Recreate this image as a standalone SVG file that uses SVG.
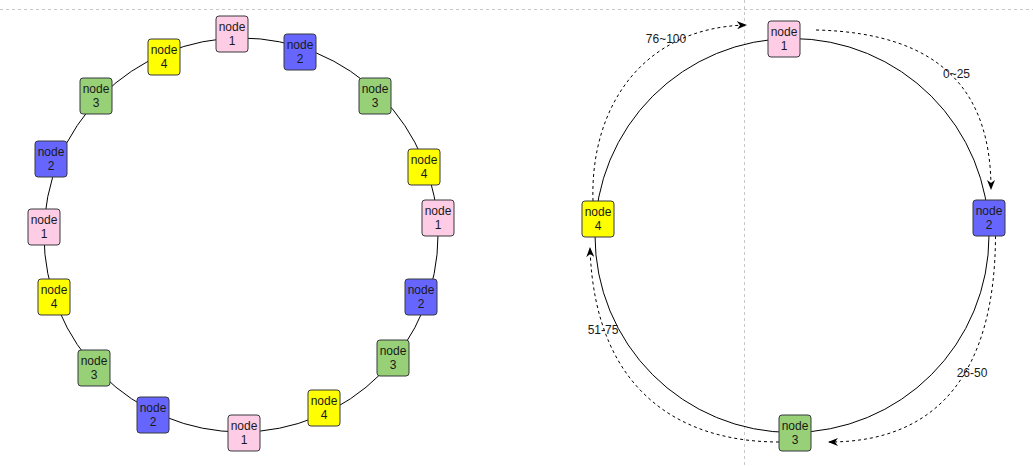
<svg xmlns="http://www.w3.org/2000/svg" width="1033" height="466" viewBox="0 0 1033 466">
<style>
  .bg{fill:#ffffff}
  .page{stroke:#c8c8c8;stroke-width:1;stroke-dasharray:3,3;fill:none}
  .ring{fill:none;stroke:#000;stroke-width:1}
  .box{stroke:#36393d;stroke-width:1}
  .n1{fill:#ffcce6}
  .n2{fill:#6666ff}
  .n3{fill:#97d077}
  .n4{fill:#ffff00}
  .t{font-family:"Liberation Sans",Arial,sans-serif;font-size:12px;fill:#1a1a1a;text-anchor:middle}
  .edge{fill:none;stroke:#000;stroke-width:1;stroke-dasharray:3,3}
</style>
<defs>
  <marker id="arr" viewBox="0 0 10 8" refX="9" refY="4" markerWidth="10" markerHeight="8" markerUnits="userSpaceOnUse" orient="auto">
    <path d="M0,0 L10,4 L0,8 L3,4 Z" fill="#000"/>
  </marker>
</defs>
<rect class="bg" x="0" y="0" width="1033" height="466"/>
<g id="page-breaks">
  <line class="page" x1="0" y1="9.5" x2="1033" y2="9.5"/>
  <line class="page" x1="744.5" y1="0" x2="744.5" y2="466"/>
</g>
<g id="rings">
  <circle class="ring" cx="241" cy="235" r="197"/>
  <circle class="ring" cx="792" cy="235.5" r="197"/>
</g>
<g id="connectors">
  <path class="edge" d="M816,30 C945,33 991,95 991,189" marker-end="url(#arr)"/>
  <path class="edge" d="M995.5,236 C995,370 940,442 829,442" marker-end="url(#arr)"/>
  <path class="edge" d="M779,442 C690,442 595,400 590,248" marker-end="url(#arr)"/>
  <path class="edge" d="M593,201 C590,110 640,28 746,25" marker-end="url(#arr)"/>
  <text class="t" x="956.5" y="77.5">0~25</text>
  <text class="t" x="972" y="377">26-50</text>
  <text class="t" x="603" y="334">51-75</text>
  <text class="t" x="666" y="43">76~100</text>
</g>
<g id="left-n1a"><rect class="box n1" x="216" y="16" width="32" height="36" rx="3"/><text class="t" x="232" y="31">node</text><text class="t" x="232" y="45">1</text></g>
<g id="left-n2a"><rect class="box n2" x="284" y="34" width="32" height="36" rx="3"/><text class="t" x="300" y="49">node</text><text class="t" x="300" y="63">2</text></g>
<g id="left-n3a"><rect class="box n3" x="359" y="78" width="32" height="36" rx="3"/><text class="t" x="375" y="93">node</text><text class="t" x="375" y="107">3</text></g>
<g id="left-n4a"><rect class="box n4" x="408" y="149" width="32" height="36" rx="3"/><text class="t" x="424" y="164">node</text><text class="t" x="424" y="178">4</text></g>
<g id="left-n1b"><rect class="box n1" x="422" y="200" width="32" height="36" rx="3"/><text class="t" x="438" y="215">node</text><text class="t" x="438" y="229">1</text></g>
<g id="left-n2b"><rect class="box n2" x="405" y="279" width="32" height="36" rx="3"/><text class="t" x="421" y="294">node</text><text class="t" x="421" y="308">2</text></g>
<g id="left-n3b"><rect class="box n3" x="377" y="340" width="32" height="36" rx="3"/><text class="t" x="393" y="355">node</text><text class="t" x="393" y="369">3</text></g>
<g id="left-n4b"><rect class="box n4" x="308" y="390" width="32" height="36" rx="3"/><text class="t" x="324" y="405">node</text><text class="t" x="324" y="419">4</text></g>
<g id="left-n1c"><rect class="box n1" x="228" y="415" width="32" height="36" rx="3"/><text class="t" x="244" y="430">node</text><text class="t" x="244" y="444">1</text></g>
<g id="left-n2c"><rect class="box n2" x="137" y="397" width="32" height="36" rx="3"/><text class="t" x="153" y="412">node</text><text class="t" x="153" y="426">2</text></g>
<g id="left-n3c"><rect class="box n3" x="78" y="350" width="32" height="36" rx="3"/><text class="t" x="94" y="365">node</text><text class="t" x="94" y="379">3</text></g>
<g id="left-n4c"><rect class="box n4" x="38" y="279" width="32" height="36" rx="3"/><text class="t" x="54" y="294">node</text><text class="t" x="54" y="308">4</text></g>
<g id="left-n1d"><rect class="box n1" x="28" y="209" width="32" height="36" rx="3"/><text class="t" x="44" y="224">node</text><text class="t" x="44" y="238">1</text></g>
<g id="left-n2d"><rect class="box n2" x="35" y="141" width="32" height="36" rx="3"/><text class="t" x="51" y="156">node</text><text class="t" x="51" y="170">2</text></g>
<g id="left-n3d"><rect class="box n3" x="80" y="78" width="32" height="36" rx="3"/><text class="t" x="96" y="93">node</text><text class="t" x="96" y="107">3</text></g>
<g id="left-n4d"><rect class="box n4" x="148" y="39" width="32" height="36" rx="3"/><text class="t" x="164" y="54">node</text><text class="t" x="164" y="68">4</text></g>
<g id="right-n1"><rect class="box n1" x="768" y="21" width="32" height="36" rx="3"/><text class="t" x="784" y="36">node</text><text class="t" x="784" y="50">1</text></g>
<g id="right-n2"><rect class="box n2" x="973" y="200" width="32" height="36" rx="3"/><text class="t" x="989" y="215">node</text><text class="t" x="989" y="229">2</text></g>
<g id="right-n3"><rect class="box n3" x="779" y="415" width="32" height="36" rx="3"/><text class="t" x="795" y="430">node</text><text class="t" x="795" y="444">3</text></g>
<g id="right-n4"><rect class="box n4" x="582" y="201" width="32" height="36" rx="3"/><text class="t" x="598" y="216">node</text><text class="t" x="598" y="230">4</text></g>
</svg>
